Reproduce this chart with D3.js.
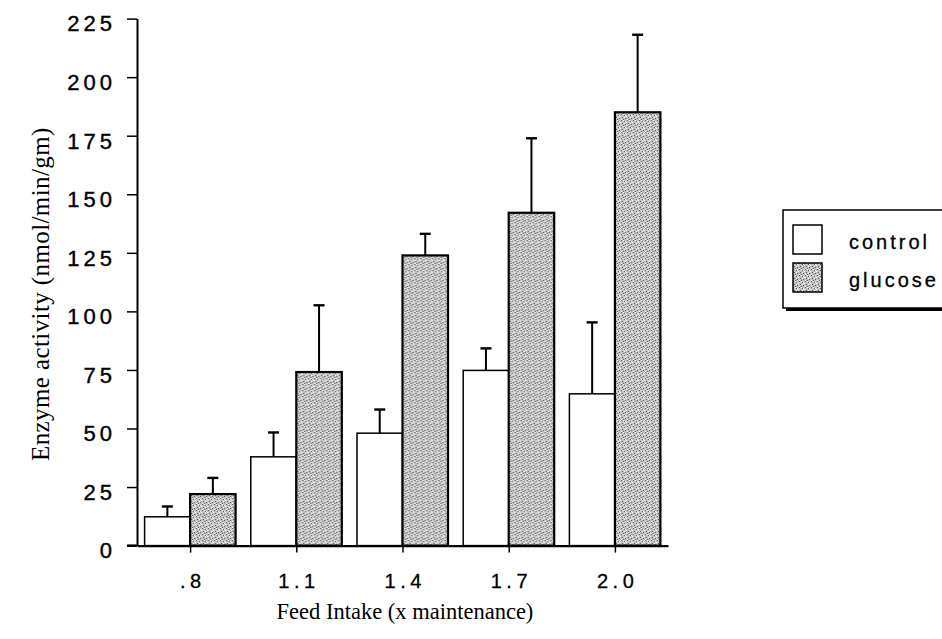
<!DOCTYPE html>
<html>
<head>
<meta charset="utf-8">
<script src="https://cdn.jsdelivr.net/npm/d3@7"></script>
<style>
  html, body { margin: 0; padding: 0; background: #fff; }
  svg { display: block; }
</style>
</head>
<body>
<svg id="chart" width="942" height="639"></svg>
<script>
// Feed intake levels (x maintenance)
const categories = [".8", "1.1", "1.4", "1.7", "2.0"];
const seriesNames = ["control", "glucose"];
// Enzyme activity means and standard errors (nmol/min/gm)
const controlMean = [12.3, 37.9, 48.0, 74.8, 64.8];
const controlErr  = [4.4, 10.4, 10.1, 9.4, 30.5];
const glucoseMean = [22.0, 74.1, 123.9, 142.1, 185.0];
const glucoseErr  = [6.9, 28.5, 9.2, 31.8, 33.1];
const yTicks = [0, 25, 50, 75, 100, 125, 150, 175, 200, 225];

const svg = d3.select("#chart");

// stippled grey fill for the glucose bars
const defs = svg.append("defs");
const pat = defs.append("pattern")
  .attr("id", "stipple")
  .attr("patternUnits", "userSpaceOnUse")
  .attr("width", 6).attr("height", 6);
pat.append("rect").attr("width", 6).attr("height", 6).attr("fill", "#c2c2c2");
const darkDots = [[0,0],[3,1],[1,3],[4,4],[2,5]];
const lightDots = [[2,0],[5,2],[0,5],[4,1],[3,3]];
darkDots.forEach(([px, py]) => pat.append("rect").attr("x", px).attr("y", py)
  .attr("width", 1).attr("height", 1).attr("fill", "#5a5a5a"));
lightDots.forEach(([px, py]) => pat.append("rect").attr("x", px).attr("y", py)
  .attr("width", 1).attr("height", 1).attr("fill", "#ffffff"));

const fills = { control: "#ffffff", glucose: "url(#stipple)" };
const strokes = { control: 1.5, glucose: 2.2 };

const axisX = 137;
const y = d3.scaleLinear().domain([0, 225]).range([545.6, 18.6]);
const x = d3.scalePoint().domain(categories).range([axisX, 668]).padding(0.5);
const barW = 45.5;
const xs = d3.scaleBand().domain(seriesNames).range([-barW, barW]).padding(0);

const rows = categories.map((c, i) => ({
  cat: c,
  values: [
    { key: "control", mean: controlMean[i], err: controlErr[i] },
    { key: "glucose", mean: glucoseMean[i], err: glucoseErr[i] }
  ]
}));

// bars and upward error bars
const groups = svg.append("g").selectAll("g").data(rows).join("g")
  .attr("transform", d => `translate(${x(d.cat)},0)`);

groups.selectAll("line.err").data(d => d.values).join("line")
  .attr("class", "err")
  .attr("x1", d => xs(d.key) + xs.bandwidth() / 2)
  .attr("x2", d => xs(d.key) + xs.bandwidth() / 2)
  .attr("y1", d => y(d.mean))
  .attr("y2", d => y(d.mean + d.err))
  .attr("stroke", "#000").attr("stroke-width", 2);

groups.selectAll("line.cap").data(d => d.values).join("line")
  .attr("class", "cap")
  .attr("x1", d => xs(d.key) + xs.bandwidth() / 2 - 5.5)
  .attr("x2", d => xs(d.key) + xs.bandwidth() / 2 + 5.5)
  .attr("y1", d => y(d.mean + d.err))
  .attr("y2", d => y(d.mean + d.err))
  .attr("stroke", "#000").attr("stroke-width", 2.4);

groups.selectAll("rect").data(d => d.values).join("rect")
  .attr("x", d => xs(d.key))
  .attr("width", xs.bandwidth())
  .attr("y", d => y(d.mean))
  .attr("height", d => y(0) - y(d.mean))
  .attr("fill", d => fills[d.key])
  .attr("stroke", "#000")
  .attr("stroke-width", d => strokes[d.key]);

const tickFont = "'Liberation Sans', Arial, Helvetica, sans-serif";

// y axis
const yAxis = svg.append("g")
  .attr("transform", `translate(${axisX},0)`)
  .call(d3.axisLeft(y).tickValues(yTicks).tickSize(10).tickSizeOuter(0).tickPadding(11));
yAxis.select(".domain").attr("stroke-width", 2);
yAxis.selectAll(".tick line").attr("stroke-width", 1.5);
yAxis.selectAll(".tick text")
  .attr("font-family", tickFont)
  .attr("font-size", 22)
  .attr("letter-spacing", "4px")
  .attr("fill", "#000")
  .attr("stroke", "#000").attr("stroke-width", 0.4)
  .attr("dy", "0.56em");

// x axis
const xAxis = svg.append("g")
  .attr("transform", `translate(0,${y(0)})`)
  .call(d3.axisBottom(x).tickSize(7).tickSizeOuter(0).tickPadding(21));
xAxis.select(".domain").attr("stroke-width", 2.4);
xAxis.selectAll(".tick line").attr("stroke-width", 1.5);
xAxis.selectAll(".tick text")
  .attr("font-family", tickFont)
  .attr("font-size", 20)
  .attr("letter-spacing", "4.5px")
  .attr("fill", "#000")
  .attr("stroke", "#000").attr("stroke-width", 0.3)
  .attr("dx", "2.2px");
// left overhang of the baseline under the zero tick
svg.append("line")
  .attr("x1", axisX - 10).attr("x2", axisX)
  .attr("y1", y(0)).attr("y2", y(0))
  .attr("stroke", "#000").attr("stroke-width", 2.4);

// axis titles
svg.append("text")
  .attr("x", 405).attr("y", 619)
  .attr("text-anchor", "middle")
  .attr("font-family", "'Liberation Serif', 'Times New Roman', serif")
  .attr("font-size", 22.5)
  .text("Feed Intake (x maintenance)");

svg.append("text")
  .attr("transform", "translate(49,461) rotate(-90)")
  .attr("text-anchor", "start")
  .attr("font-family", "'Liberation Serif', 'Times New Roman', serif")
  .attr("font-size", 25)
  .attr("letter-spacing", "0.4px")
  .text("Enzyme activity (nmol/min/gm)");

// legend with drop shadow
const lg = svg.append("g").attr("transform", "translate(783,210)");
lg.append("rect").attr("x", 3).attr("y", 3).attr("width", 200).attr("height", 98).attr("fill", "#000");
lg.append("rect").attr("x", 0).attr("y", 0).attr("width", 200).attr("height", 98)
  .attr("fill", "#fff").attr("stroke", "#000").attr("stroke-width", 1.5);
const items = lg.selectAll("g.item").data(seriesNames).join("g")
  .attr("class", "item")
  .attr("transform", (d, i) => `translate(10,${15 + i * 38})`);
items.append("rect")
  .attr("width", 29).attr("height", 29)
  .attr("fill", d => fills[d])
  .attr("stroke", "#000").attr("stroke-width", 1.5);
items.append("text")
  .attr("x", 56).attr("y", 24)
  .attr("font-family", tickFont)
  .attr("font-size", 20)
  .attr("letter-spacing", "3px")
  .attr("stroke", "#000").attr("stroke-width", 0.3)
  .text(d => d);
</script>
</body>
</html>
